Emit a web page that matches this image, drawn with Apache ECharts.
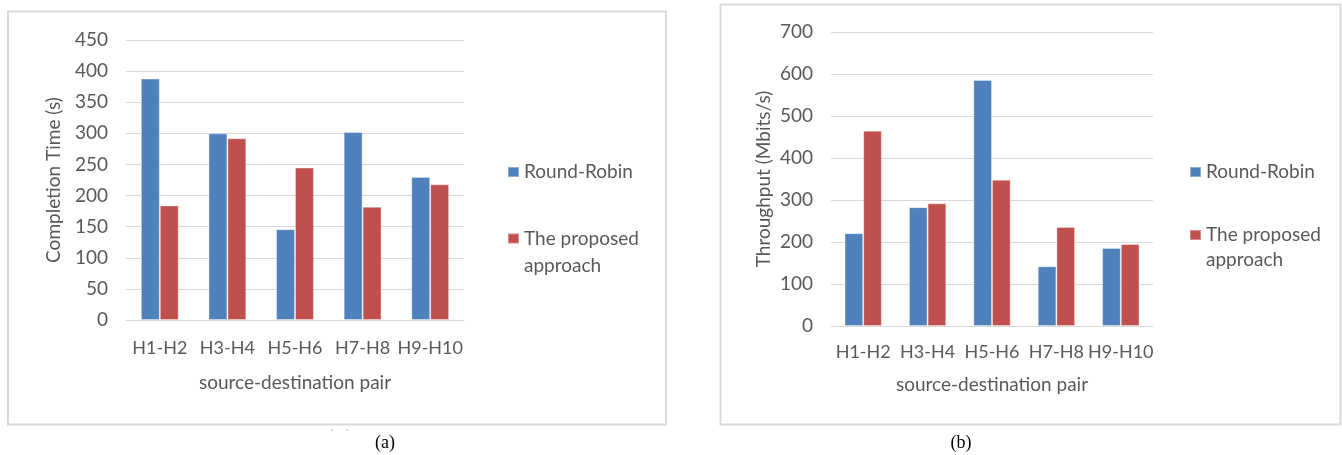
<!DOCTYPE html>
<html>
<head>
<meta charset="utf-8">
<script src="https://cdn.jsdelivr.net/npm/echarts@6/dist/echarts.min.js"></script>
<style>
  html, body { margin: 0; padding: 0; background: #ffffff; }
  #chart { width: 1342px; height: 455px; }
</style>
</head>
<body>
<div id="chart"></div>
<script>
// ---- data ----
const categories = ['H1-H2', 'H3-H4', 'H5-H6', 'H7-H8', 'H9-H10'];
const seriesNames = ['Round-Robin', 'The proposed approach'];
const completionRoundRobin = [388, 300, 146, 302, 230];
const completionProposed = [184, 292, 245, 182, 218];
const throughputRoundRobin = [221, 283, 586, 142, 186];
const throughputProposed = [465, 292, 348, 236, 195];
const completionTicks = { min: 0, max: 450, interval: 50 };
const throughputTicks = { min: 0, max: 700, interval: 100 };
const axisTitles = {
  completionY: 'Completion Time (s)',
  throughputY: 'Throughput (Mbits/s)',
  x: 'source-destination pair'
};
const captions = ['(a)', '(b)'];

// ---- styles ----
const FONT = 'Lato, "Noto Sans", sans-serif';
const TEXT = '#595959';
const GRID = '#D9D9D9';
const BLUE = '#4F81BD';
const RED = '#C0504D';

const chart = echarts.init(document.getElementById('chart'), null, { renderer: 'canvas' });

function xAxisFor(gridIndex, labelMargin, nameGap) {
  return {
    type: 'category', gridIndex: gridIndex, data: categories,
    axisLine: { show: true, lineStyle: { color: GRID, width: 1 } },
    axisTick: { show: false },
    axisLabel: { interval: 0, margin: labelMargin, color: TEXT, fontSize: 18, fontFamily: FONT },
    name: axisTitles.x, nameLocation: 'middle', nameGap: nameGap,
    nameTextStyle: { color: TEXT, fontSize: 19, fontFamily: FONT }
  };
}
function yAxisFor(gridIndex, ticks, title, nameGap) {
  return {
    type: 'value', gridIndex: gridIndex,
    min: ticks.min, max: ticks.max, interval: ticks.interval,
    axisLine: { show: false }, axisTick: { show: false },
    splitLine: { show: true, lineStyle: { color: GRID, width: 1 } },
    axisLabel: { margin: 18, color: TEXT, fontSize: 19, fontFamily: FONT },
    name: title, nameLocation: 'middle', nameRotate: 90, nameGap: nameGap,
    nameTextStyle: { color: TEXT, fontSize: 19, fontFamily: FONT }
  };
}
function legendFor(left, top, lineH, gap) {
  return {
    orient: 'vertical', left: left, top: top, padding: 0,
    itemWidth: 11, itemHeight: 10, itemGap: gap, icon: 'rect',
    selectedMode: false,
    // leading empty line keeps the icon level with the first text line
    formatter: function (n) { return n === seriesNames[1] ? '\nThe proposed\napproach' : n; },
    textStyle: { color: TEXT, fontSize: 19, fontFamily: FONT, lineHeight: lineH },
    data: [{ name: seriesNames[0] }, { name: seriesNames[1] }]
  };
}
function barSeries(name, data, color, axisIdx, gapPct) {
  return {
    type: 'bar', name: name, data: data,
    xAxisIndex: axisIdx, yAxisIndex: axisIdx,
    barGap: '0%', barCategoryGap: gapPct,
    itemStyle: { color: color, borderColor: 'rgba(255,255,255,0.35)', borderWidth: 1 },
    emphasis: { disabled: true }, animation: false
  };
}

const option = {
  animation: false,
  backgroundColor: '#ffffff',
  textStyle: { fontFamily: FONT },
  grid: [
    { left: 126, top: 40, width: 338, height: 280 },
    { left: 831, top: 32, width: 322, height: 294 }
  ],
  xAxis: [xAxisFor(0, 19, 53), xAxisFor(1, 17, 49)],
  yAxis: [
    yAxisFor(0, completionTicks, axisTitles.completionY, 63),
    yAxisFor(1, throughputTicks, axisTitles.throughputY, 58)
  ],
  legend: [legendFor(507, 158.5, 27, 12.5), legendFor(1189, 159.5, 25, 13)],
  series: [
    barSeries(seriesNames[0], completionRoundRobin, BLUE, 0, '44%'),
    barSeries(seriesNames[1], completionProposed, RED, 0, '44%'),
    barSeries(seriesNames[0], throughputRoundRobin, BLUE, 1, '42%'),
    barSeries(seriesNames[1], throughputProposed, RED, 1, '42%')
  ],
  graphic: [
    { type: 'rect', silent: true, z: -10, shape: { x: 8, y: 11.5, width: 658, height: 413 },
      style: { fill: null, stroke: GRID, lineWidth: 2 } },
    { type: 'rect', silent: true, z: -10, shape: { x: 720.5, y: 4.5, width: 620, height: 420 },
      style: { fill: null, stroke: GRID, lineWidth: 2 } },
    { type: 'circle', silent: true, shape: { cx: 332, cy: 430, r: 0.8 }, style: { fill: '#8aa6cc' } },
    { type: 'circle', silent: true, shape: { cx: 347, cy: 430, r: 0.8 }, style: { fill: '#8aa6cc' } },
    { type: 'text', silent: true, x: 385, y: 443,
      style: { text: captions[0], fill: '#000000', font: '18px "Liberation Serif", "DejaVu Serif", serif', align: 'center', verticalAlign: 'middle' } },
    { type: 'text', silent: true, x: 961, y: 443,
      style: { text: captions[1], fill: '#000000', font: '18px "Liberation Serif", "DejaVu Serif", serif', align: 'center', verticalAlign: 'middle' } }
  ]
};
chart.setOption(option);
</script>
</body>
</html>
